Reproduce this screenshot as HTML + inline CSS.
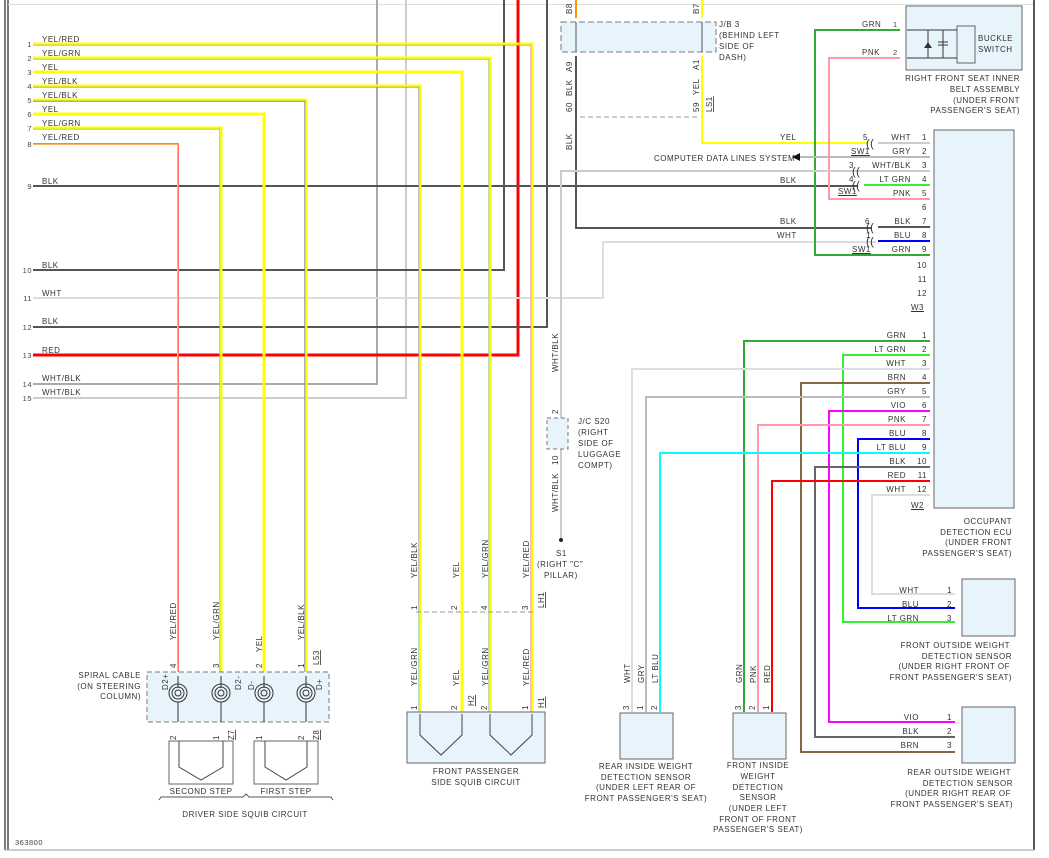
<!DOCTYPE html>
<html><head><meta charset="utf-8"><style>
body{margin:0;background:#fff}
svg{display:block}
text{font-family:"Liberation Sans",sans-serif;font-size:8px;fill:#333;letter-spacing:0.5px}
.n{font-size:7.5px;fill:#444}
.w{fill:none;stroke-width:2}
.w.t{stroke-width:3}
.w.h{stroke-width:0.8}
</style></head><body>
<svg width="1049" height="858" viewBox="0 0 1049 858" xmlns="http://www.w3.org/2000/svg">
<!-- frame -->
<line x1="5" y1="0" x2="5" y2="850" stroke="#222" stroke-width="1.2"/>
<line x1="8" y1="0" x2="8" y2="850" stroke="#222" stroke-width="1.2"/>
<line x1="8" y1="4.5" x2="1034" y2="4.5" stroke="#ddd"/>
<line x1="1034" y1="0" x2="1034" y2="850" stroke="#222" stroke-width="1.5"/>
<line x1="5" y1="850" x2="1034" y2="850" stroke="#bbb" stroke-width="1.5"/>

<!-- vertical long wires from top -->
<polyline class="w" points="33,384 377,384 377,0" stroke="#aaa"/>
<polyline class="w" points="33,398 406,398 406,0" stroke="#ccc"/>
<polyline class="w" points="33,270 504,270 504,0" stroke="#555"/>
<polyline class="w t" points="33,355 518,355 518,0" stroke="#f00"/>
<polyline class="w" points="33,327 547,327 547,0" stroke="#555"/>
<polyline class="w" points="33,298 603,298 603,242 876,242" stroke="#ddd"/>
<polyline class="w" points="33,186 858,186" stroke="#555"/>

<!-- squib wires -->
<g>
<polyline class="w t" points="33,44 532,44 532,712" stroke="#ff0"/>
<polyline class="w h" points="33,45.2 530.8,45.2 530.8,712" stroke="#f88"/>
<polyline class="w t" points="33,58 490,58 490,712" stroke="#ff0"/>
<polyline class="w h" points="33,59.2 488.8,59.2 488.8,712" stroke="#8c8"/>
<polyline class="w t" points="33,72 462,72 462,712" stroke="#ff0"/>
<polyline class="w t" points="33,86 420,86 420,712" stroke="#ff0"/>
<polyline class="w h" points="33,87.2 418.8,87.2 418.8,612" stroke="#999"/>
<polyline class="w h" points="418.8,612 418.8,712" stroke="#8c8"/>
<polyline class="w t" points="33,100 306,100 306,672" stroke="#ff0"/>
<polyline class="w h" points="33,101.2 304.8,101.2 304.8,672" stroke="#777"/>
<polyline class="w t" points="33,114 264,114 264,672" stroke="#ff0"/>
<polyline class="w t" points="33,128 221,128 221,672" stroke="#ff0"/>
<polyline class="w h" points="33,129.2 219.8,129.2 219.8,672" stroke="#8c8"/>
<polyline class="w" points="33,144 178,144 178,672" stroke="#ffb060"/>
<polyline class="w h" points="33,143.5 178.5,143.5 178.5,672" stroke="#f66"/>
</g>

<!-- left labels -->
<g class="n" text-anchor="end">
<text x="32" y="47" class="n">1</text><text x="32" y="61" class="n">2</text><text x="32" y="75" class="n">3</text><text x="32" y="89" class="n">4</text><text x="32" y="103" class="n">5</text><text x="32" y="117" class="n">6</text><text x="32" y="131" class="n">7</text><text x="32" y="147" class="n">8</text><text x="32" y="189" class="n">9</text><text x="32" y="273" class="n">10</text><text x="32" y="301" class="n">11</text><text x="32" y="330" class="n">12</text><text x="32" y="358" class="n">13</text><text x="32" y="387" class="n">14</text><text x="32" y="401" class="n">15</text>
</g>
<text x="42" y="42">YEL/RED</text><text x="42" y="56">YEL/GRN</text><text x="42" y="70">YEL</text><text x="42" y="84">YEL/BLK</text><text x="42" y="98">YEL/BLK</text><text x="42" y="112">YEL</text><text x="42" y="126">YEL/GRN</text><text x="42" y="140">YEL/RED</text><text x="42" y="184">BLK</text><text x="42" y="268">BLK</text><text x="42" y="296">WHT</text><text x="42" y="324">BLK</text><text x="42" y="353">RED</text><text x="42" y="381">WHT/BLK</text><text x="42" y="395">WHT/BLK</text>

<!-- J/B 3 -->
<rect x="561" y="22" width="155" height="30" fill="#e8f4fb" stroke="#777" stroke-dasharray="6,3"/>
<line x1="576" y1="0" x2="576" y2="18" stroke="#f90" stroke-width="2"/>
<line x1="702" y1="0" x2="702" y2="18" stroke="#ff0" stroke-width="2"/>
<line x1="576" y1="22" x2="576" y2="52" stroke="#555"/>
<line x1="702" y1="22" x2="702" y2="52" stroke="#555"/>
<polyline class="w" points="576,56 576,228 872,228" stroke="#555"/>
<polyline class="w" points="702,56 702,143 868,143" stroke="#ff0"/>
<line x1="580" y1="117" x2="698" y2="117" stroke="#999" stroke-dasharray="5,3"/>
<text x="719" y="27">J/B 3</text><text x="719" y="38">(BEHIND LEFT</text><text x="719" y="49">SIDE OF</text><text x="719" y="60">DASH)</text>
<g class="n">
<text transform="translate(572,14) rotate(-90)">B8</text><text transform="translate(699,14) rotate(-90)">B7</text>
<text transform="translate(572,72) rotate(-90)">A9</text><text transform="translate(572,96) rotate(-90)">BLK</text><text transform="translate(572,112) rotate(-90)">60</text><text transform="translate(572,150) rotate(-90)">BLK</text>
<text transform="translate(699,70) rotate(-90)">A1</text><text transform="translate(699,95) rotate(-90)">YEL</text><text transform="translate(699,112) rotate(-90)">59</text>
<text transform="translate(712,112) rotate(-90)" text-decoration="underline">LS1</text>
</g>

<!-- buckle -->
<rect x="906" y="6" width="116" height="64" fill="#e8f4fb" stroke="#666"/>
<rect x="957" y="26" width="18" height="37" fill="#e8f4fb" stroke="#666"/>
<text x="978" y="41">BUCKLE</text><text x="978" y="52">SWITCH</text>
<polyline points="907,30 957,30" stroke="#333" fill="none"/><polyline points="907,58 957,58" stroke="#333" fill="none"/>
<line x1="928" y1="30" x2="928" y2="58" stroke="#333"/><line x1="943" y1="30" x2="943" y2="58" stroke="#333"/>
<polygon points="924,48 932,48 928,42" fill="#333"/>
<line x1="938" y1="42" x2="948" y2="42" stroke="#333"/><line x1="938" y1="45" x2="948" y2="45" stroke="#333"/>
<polyline class="w" points="930,255 815,255 815,30 900,30" stroke="#3a3"/>
<polyline class="w" points="930,199 829,199 829,58 900,58" stroke="#f9a"/>
<text x="862" y="27">GRN</text><text x="893" y="27" class="n">1</text>
<text x="862" y="55">PNK</text><text x="893" y="55" class="n">2</text>
<g text-anchor="end"><text x="1020" y="81">RIGHT FRONT SEAT INNER</text><text x="1020" y="92">BELT ASSEMBLY</text><text x="1020" y="103">(UNDER FRONT</text><text x="1020" y="113">PASSENGER'S SEAT)</text></g>

<!-- ECU -->
<rect x="934" y="130" width="80" height="378" fill="#e8f4fb" stroke="#666"/>
<polyline class="w" points="878,143 930,143" stroke="#ccc"/>
<polyline class="w" points="795,157 930,157" stroke="#bbb"/>
<polygon points="792,157 800,153 800,161" fill="#111"/>
<text x="654" y="161">COMPUTER DATA LINES SYSTEM</text>
<polyline class="w" points="561,540 561,171 930,171" stroke="#ccc"/>
<polyline class="w" points="864,185 930,185" stroke="#3e3"/>
<polyline class="w" points="878,227 930,227" stroke="#555"/>
<polyline class="w" points="878,241 930,241" stroke="#00f"/>
<text x="780" y="140">YEL</text><text x="780" y="183">BLK</text><text x="780" y="224">BLK</text><text x="777" y="238">WHT</text>
<g class="n"><text x="863" y="140">5</text><text x="849" y="168">3</text><text x="849" y="182">4</text><text x="865" y="224">6</text><text x="866" y="238">1</text></g>
<g text-decoration="underline"><text x="851" y="154">SW1</text><text x="838" y="194">SW1</text><text x="852" y="252">SW1</text><text x="911" y="310">W3</text><text x="911" y="508">W2</text></g>
<g fill="#555"><text x="866" y="147" style="font-size:11px">((</text><text x="852" y="175" style="font-size:11px">((</text><text x="852" y="189" style="font-size:11px">((</text><text x="866" y="231" style="font-size:11px">((</text><text x="866" y="245" style="font-size:11px">((</text></g>
<g text-anchor="end">
<text x="911" y="140">WHT</text><text x="911" y="154">GRY</text><text x="911" y="168">WHT/BLK</text><text x="911" y="182">LT GRN</text><text x="911" y="196">PNK</text><text x="911" y="224">BLK</text><text x="911" y="238">BLU</text><text x="911" y="252">GRN</text>
<text x="927" y="140">1</text><text x="927" y="154">2</text><text x="927" y="168">3</text><text x="927" y="182">4</text><text x="927" y="196">5</text><text x="927" y="210">6</text><text x="927" y="224">7</text><text x="927" y="238">8</text><text x="927" y="252">9</text><text x="927" y="268">10</text><text x="927" y="282">11</text><text x="927" y="296">12</text>
</g>

<!-- lower ECU wires -->
<polyline class="w" points="930,341 744,341 744,712" stroke="#3a3"/>
<polyline class="w" points="930,355 843,355 843,622 955,622" stroke="#3e3"/>
<polyline class="w" points="930,369 632,369 632,712" stroke="#ddd"/>
<polyline class="w" points="930,383 801,383 801,752 955,752" stroke="#864"/>
<polyline class="w" points="930,397 646,397 646,712" stroke="#bbb"/>
<polyline class="w" points="930,411 829,411 829,722 955,722" stroke="#f0f"/>
<polyline class="w" points="930,425 758,425 758,712" stroke="#f9a"/>
<polyline class="w" points="930,439 858,439 858,608 955,608" stroke="#00f"/>
<polyline class="w" points="930,453 660,453 660,712" stroke="#0ff"/>
<polyline class="w" points="930,467 815,467 815,737 955,737" stroke="#666"/>
<polyline class="w" points="930,481 772,481 772,712" stroke="#f00"/>
<polyline class="w" points="930,495 872,495 872,594 955,594" stroke="#ddd"/>
<g text-anchor="end">
<text x="906" y="338">GRN</text><text x="906" y="352">LT GRN</text><text x="906" y="366">WHT</text><text x="906" y="380">BRN</text><text x="906" y="394">GRY</text><text x="906" y="408">VIO</text><text x="906" y="422">PNK</text><text x="906" y="436">BLU</text><text x="906" y="450">LT BLU</text><text x="906" y="464">BLK</text><text x="906" y="478">RED</text><text x="906" y="492">WHT</text>
<text x="927" y="338">1</text><text x="927" y="352">2</text><text x="927" y="366">3</text><text x="927" y="380">4</text><text x="927" y="394">5</text><text x="927" y="408">6</text><text x="927" y="422">7</text><text x="927" y="436">8</text><text x="927" y="450">9</text><text x="927" y="464">10</text><text x="927" y="478">11</text><text x="927" y="492">12</text>
<text x="1012" y="524">OCCUPANT</text><text x="1012" y="535">DETECTION ECU</text><text x="1012" y="545">(UNDER FRONT</text><text x="1012" y="556">PASSENGER'S SEAT)</text>
</g>

<!-- front outside -->
<rect x="962" y="579" width="53" height="57" fill="#e8f4fb" stroke="#666"/>
<g text-anchor="end"><text x="919" y="593">WHT</text><text x="919" y="607">BLU</text><text x="919" y="621">LT GRN</text><text x="952" y="593">1</text><text x="952" y="607">2</text><text x="952" y="621">3</text>
<text x="1010" y="648">FRONT OUTSIDE WEIGHT</text><text x="1012" y="659">DETECTION SENSOR</text><text x="1010" y="669">(UNDER RIGHT FRONT OF</text><text x="1012" y="680">FRONT PASSENGER'S SEAT)</text></g>
<!-- rear outside -->
<rect x="962" y="707" width="53" height="56" fill="#e8f4fb" stroke="#666"/>
<g text-anchor="end"><text x="919" y="720">VIO</text><text x="919" y="734">BLK</text><text x="919" y="748">BRN</text><text x="952" y="720">1</text><text x="952" y="734">2</text><text x="952" y="748">3</text>
<text x="1011" y="775">REAR OUTSIDE WEIGHT</text><text x="1013" y="786">DETECTION SENSOR</text><text x="1011" y="796">(UNDER RIGHT REAR OF</text><text x="1013" y="807">FRONT PASSENGER'S SEAT)</text></g>
<!-- rear inside -->
<rect x="620" y="713" width="53" height="46" fill="#e8f4fb" stroke="#666"/>
<g class="n"><text transform="translate(630,683) rotate(-90)">WHT</text><text transform="translate(644,683) rotate(-90)">GRY</text><text transform="translate(658,683) rotate(-90)">LT BLU</text>
<text transform="translate(629,710) rotate(-90)">3</text><text transform="translate(643,710) rotate(-90)">1</text><text transform="translate(657,710) rotate(-90)">2</text></g>
<g text-anchor="middle"><text x="646" y="769">REAR INSIDE WEIGHT</text><text x="646" y="780">DETECTION SENSOR</text><text x="646" y="790">(UNDER LEFT REAR OF</text><text x="646" y="801">FRONT PASSENGER'S SEAT)</text></g>
<!-- front inside -->
<rect x="733" y="713" width="53" height="46" fill="#e8f4fb" stroke="#666"/>
<g class="n"><text transform="translate(742,683) rotate(-90)">GRN</text><text transform="translate(756,683) rotate(-90)">PNK</text><text transform="translate(770,683) rotate(-90)">RED</text>
<text transform="translate(741,710) rotate(-90)">3</text><text transform="translate(755,710) rotate(-90)">2</text><text transform="translate(769,710) rotate(-90)">1</text></g>
<g text-anchor="middle"><text x="758" y="768">FRONT INSIDE</text><text x="758" y="779">WEIGHT</text><text x="758" y="790">DETECTION</text><text x="758" y="800">SENSOR</text><text x="758" y="811">(UNDER LEFT</text><text x="758" y="822">FRONT OF FRONT</text><text x="758" y="832">PASSENGER'S SEAT)</text></g>

<!-- J/C S20 -->
<rect x="547" y="418" width="21" height="31" fill="#e8f4fb" stroke="#777" stroke-dasharray="4,3"/>
<circle cx="561" cy="540" r="2" fill="#222"/>
<g class="n"><text transform="translate(558,372) rotate(-90)">WHT/BLK</text><text transform="translate(558,512) rotate(-90)">WHT/BLK</text><text transform="translate(558,414) rotate(-90)">2</text><text transform="translate(558,465) rotate(-90)">10</text></g>
<text x="578" y="424">J/C S20</text><text x="578" y="435">(RIGHT</text><text x="578" y="446">SIDE OF</text><text x="578" y="457">LUGGAGE</text><text x="578" y="468">COMPT)</text>
<text x="556" y="556">S1</text><text x="537" y="567">(RIGHT "C"</text><text x="544" y="578">PILLAR)</text>

<!-- front passenger squib -->
<line x1="416" y1="612" x2="536" y2="612" stroke="#999" stroke-dasharray="5,3"/>
<rect x="407" y="712" width="138" height="51" fill="#e8f4fb" stroke="#666"/>
<polyline points="420,714 420,735 441,755 462,735 462,714" fill="none" stroke="#444"/>
<polyline points="490,714 490,735 511,755 532,735 532,714" fill="none" stroke="#444"/>
<g class="n">
<text transform="translate(417,578) rotate(-90)">YEL/BLK</text><text transform="translate(459,578) rotate(-90)">YEL</text><text transform="translate(488,578) rotate(-90)">YEL/GRN</text><text transform="translate(529,578) rotate(-90)">YEL/RED</text>
<text transform="translate(417,686) rotate(-90)">YEL/GRN</text><text transform="translate(459,686) rotate(-90)">YEL</text><text transform="translate(488,686) rotate(-90)">YEL/GRN</text><text transform="translate(529,686) rotate(-90)">YEL/RED</text>
<text transform="translate(417,610) rotate(-90)">1</text><text transform="translate(457,610) rotate(-90)">2</text><text transform="translate(487,610) rotate(-90)">4</text><text transform="translate(528,610) rotate(-90)">3</text>
<text transform="translate(417,710) rotate(-90)">1</text><text transform="translate(457,710) rotate(-90)">2</text><text transform="translate(487,710) rotate(-90)">2</text><text transform="translate(528,710) rotate(-90)">1</text>
<text transform="translate(544,608) rotate(-90)" text-decoration="underline">LH1</text><text transform="translate(474,706) rotate(-90)" text-decoration="underline">H2</text><text transform="translate(544,708) rotate(-90)" text-decoration="underline">H1</text>
</g>
<text x="476" y="774" text-anchor="middle">FRONT PASSENGER</text><text x="476" y="785" text-anchor="middle">SIDE SQUIB CIRCUIT</text>

<!-- driver squib -->
<rect x="147" y="672" width="182" height="50" fill="#e8f4fb" stroke="#777" stroke-dasharray="5,3"/>
<g fill="none" stroke="#333" stroke-width="1">
<circle cx="178" cy="693" r="9"/><circle cx="178" cy="693" r="6"/><circle cx="178" cy="693" r="3"/>
<circle cx="221" cy="693" r="9"/><circle cx="221" cy="693" r="6"/><circle cx="221" cy="693" r="3"/>
<circle cx="264" cy="693" r="9"/><circle cx="264" cy="693" r="6"/><circle cx="264" cy="693" r="3"/>
<circle cx="306" cy="693" r="9"/><circle cx="306" cy="693" r="6"/><circle cx="306" cy="693" r="3"/>
<line x1="178" y1="676" x2="178" y2="688"/><line x1="221" y1="676" x2="221" y2="688"/><line x1="264" y1="676" x2="264" y2="688"/><line x1="306" y1="676" x2="306" y2="688"/>
<line x1="178" y1="702" x2="178" y2="722"/><line x1="221" y1="702" x2="221" y2="722"/><line x1="264" y1="702" x2="264" y2="722"/><line x1="306" y1="702" x2="306" y2="722"/>
<polyline points="179,741 179,767 201,780 223,767 223,741" stroke="#444"/>
<polyline points="265,741 265,767 286,780 307,767 307,741" stroke="#444"/>
<polyline points="159,800 161,797 243,797 246,794 249,797 331,797 333,800" stroke="#555"/>
</g>
<rect x="169" y="741" width="64" height="43" fill="none" stroke="#666"/>
<rect x="254" y="741" width="64" height="43" fill="none" stroke="#666"/>
<g class="n">
<text transform="translate(176,640) rotate(-90)">YEL/RED</text><text transform="translate(219,640) rotate(-90)">YEL/GRN</text><text transform="translate(262,652) rotate(-90)">YEL</text><text transform="translate(304,640) rotate(-90)">YEL/BLK</text>
<text transform="translate(176,668) rotate(-90)">4</text><text transform="translate(219,668) rotate(-90)">3</text><text transform="translate(262,668) rotate(-90)">2</text><text transform="translate(304,668) rotate(-90)">1</text>
<text transform="translate(319,665) rotate(-90)" text-decoration="underline">L53</text>
<text transform="translate(168,690) rotate(-90)">D2+</text><text transform="translate(241,690) rotate(-90)">D2-</text><text transform="translate(254,690) rotate(-90)">D-</text><text transform="translate(322,690) rotate(-90)">D+</text>
<text transform="translate(176,740) rotate(-90)">2</text><text transform="translate(219,740) rotate(-90)">1</text><text transform="translate(262,740) rotate(-90)">1</text><text transform="translate(304,740) rotate(-90)">2</text>
<text transform="translate(234,740) rotate(-90)" text-decoration="underline">Z7</text><text transform="translate(319,740) rotate(-90)" text-decoration="underline">Z8</text>
</g>
<g text-anchor="end"><text x="141" y="678">SPIRAL CABLE</text><text x="141" y="689">(ON STEERING</text><text x="141" y="699">COLUMN)</text></g>
<text x="201" y="794" text-anchor="middle">SECOND STEP</text><text x="286" y="794" text-anchor="middle">FIRST STEP</text>
<text x="245" y="817" text-anchor="middle">DRIVER SIDE SQUIB CIRCUIT</text>
<text x="15" y="845" class="n">363800</text>
</svg>
</body></html>
